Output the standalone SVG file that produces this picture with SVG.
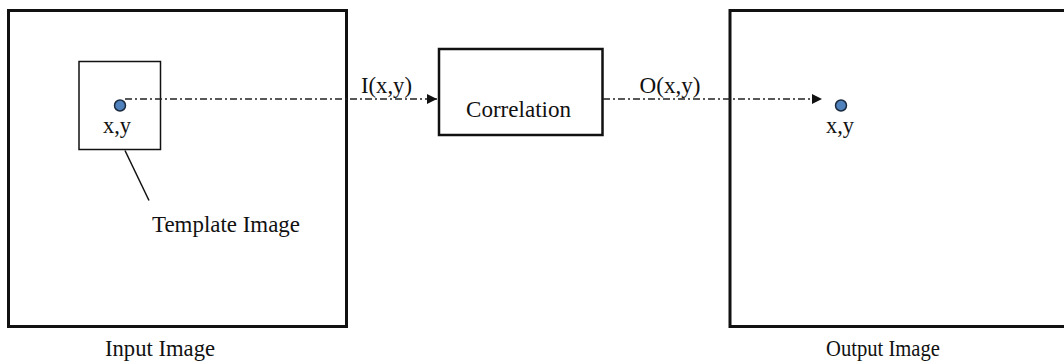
<svg xmlns="http://www.w3.org/2000/svg" width="1064" height="363" viewBox="0 0 1064 363">
<style>
text{font-family:"Liberation Serif","Times New Roman",serif;fill:#111;font-size:24px}
.big{fill:none;stroke:#111;stroke-width:3}
.flow{fill:none;stroke:#222;stroke-width:1.3;stroke-dasharray:7 3 2 3}
.dot{fill:#4f81bd;stroke:#1b2a3d;stroke-width:1.5}
</style>
<defs>
<marker id="ah" viewBox="0 0 10 10" refX="10" refY="5" markerWidth="10" markerHeight="10" markerUnits="userSpaceOnUse" orient="auto">
<path d="M0,0 L10,5 L0,10 Z" fill="#111"/>
</marker>
</defs>
<rect width="1064" height="363" fill="#fff"/>
<g id="input-image">
<rect class="big" x="8.5" y="10.5" width="338" height="316"/>
<text x="160" y="356" text-anchor="middle" textLength="110" lengthAdjust="spacingAndGlyphs">Input Image</text>
</g>
<g id="template-image">
<rect x="79" y="61.5" width="81.5" height="88" fill="none" stroke="#111" stroke-width="1.5"/>
<circle class="dot" cx="120" cy="105.5" r="5.5"/>
<text x="117" y="132.5" text-anchor="middle" textLength="28" lengthAdjust="spacingAndGlyphs">x,y</text>
<text x="226" y="231.5" text-anchor="middle" textLength="148" lengthAdjust="spacingAndGlyphs">Template Image</text>
</g>
<g id="correlation">
<rect x="439" y="49" width="163.5" height="86" fill="none" stroke="#111" stroke-width="2.5"/>
<text x="518.5" y="117" text-anchor="middle" textLength="105" lengthAdjust="spacingAndGlyphs">Correlation</text>
</g>
<g id="output-image">
<rect class="big" x="730" y="10.5" width="340" height="316"/>
<circle class="dot" cx="841" cy="105.5" r="5.5"/>
<text x="840" y="132.5" text-anchor="middle" textLength="28" lengthAdjust="spacingAndGlyphs">x,y</text>
<text x="883" y="356" text-anchor="middle" textLength="114" lengthAdjust="spacingAndGlyphs">Output Image</text>
</g>
<g id="connectors">
<line x1="125" y1="150.5" x2="149" y2="200.5" stroke="#111" stroke-width="1.5"/>
<line class="flow" x1="125" y1="99" x2="437" y2="99" marker-end="url(#ah)"/>
<text x="386.5" y="93" text-anchor="middle" textLength="51" lengthAdjust="spacingAndGlyphs">I(x,y)</text>
<line class="flow" x1="603" y1="99" x2="822" y2="99" marker-end="url(#ah)"/>
<text x="670" y="93" text-anchor="middle" textLength="61" lengthAdjust="spacingAndGlyphs">O(x,y)</text>
</g>
</svg>
